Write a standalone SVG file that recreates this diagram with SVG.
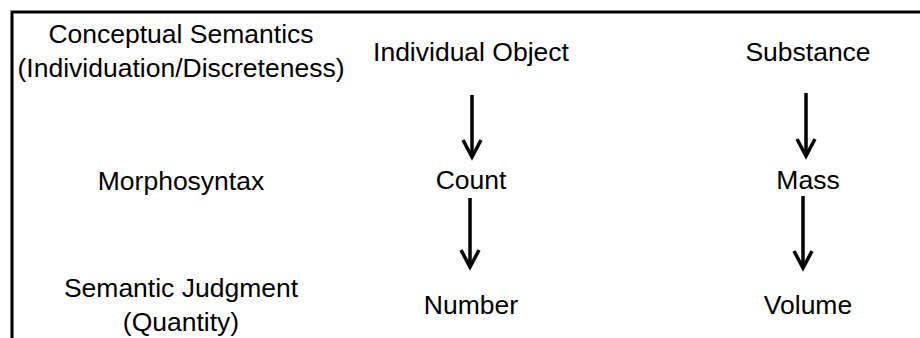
<svg xmlns="http://www.w3.org/2000/svg" width="920" height="338" viewBox="0 0 920 338">
<style>
text{font-family:"Liberation Sans",Arial,sans-serif;font-size:26.5px;fill:#000;text-anchor:middle}
.shaft{stroke:#000;stroke-width:3.5;fill:none}
.head{stroke:#000;stroke-width:3.5;fill:none;stroke-linejoin:miter;stroke-linecap:butt}
</style>
<rect width="920" height="338" fill="#fff"/>
<path d="M12 338 V12 H922" fill="none" stroke="#000" stroke-width="3"/>
<g id="row-labels">
<g id="label-conceptual"><text x="181" y="43">Conceptual Semantics</text><text x="181" y="77">(Individuation/Discreteness)</text></g>
<g id="label-morpho"><text x="181" y="190">Morphosyntax</text></g>
<g id="label-judgment"><text x="181" y="297">Semantic Judgment</text><text x="181" y="331">(Quantity)</text></g>
</g>
<g id="node-individual"><text x="471" y="61">Individual Object</text></g>
<g id="node-substance"><text x="808" y="61">Substance</text></g>
<g id="node-count"><text x="471" y="189">Count</text></g>
<g id="node-mass"><text x="808" y="189">Mass</text></g>
<g id="node-number"><text x="471" y="314">Number</text></g>
<g id="node-volume"><text x="808" y="314">Volume</text></g>
<g id="connectors">
<line class="shaft" x1="472" y1="95" x2="472" y2="155"/>
<path class="head" d="M463 140 L472 157 L481 140"/>
<line class="shaft" x1="806" y1="93" x2="806" y2="154"/>
<path class="head" d="M797 139 L806 156 L815 139"/>
<line class="shaft" x1="470" y1="198" x2="470" y2="265"/>
<path class="head" d="M461 250 L470 267 L479 250"/>
<line class="shaft" x1="803" y1="196" x2="803" y2="266"/>
<path class="head" d="M794 251 L803 268 L812 251"/>
</g>
</svg>
